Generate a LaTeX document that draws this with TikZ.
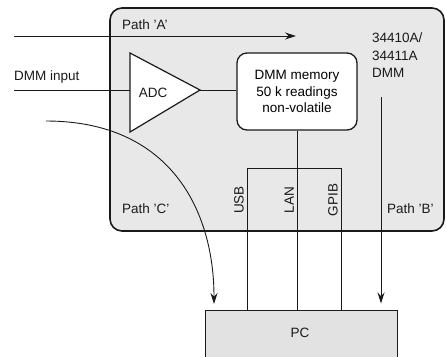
\documentclass[tikz,border=0pt]{standalone}
\usepackage{fontspec}
\setmainfont{Liberation Sans}
\usetikzlibrary{arrows.meta, positioning, calc}
\usepackage{xcolor}
\definecolor{DmmInk}{HTML}{1A1A1A}
\definecolor{DmmCase}{HTML}{E8E8E8}
\definecolor{DmmPc}{HTML}{E2E2E2}
\tikzset{
    % Box styles
    instrument/.style={
        draw=DmmInk,
        fill=DmmCase,
        line width=1.6pt,
        rounded corners=12pt
    },
    memorybox/.style={
        rectangle,
        draw=DmmInk,
        fill=white,
        line width=1.3pt,
        rounded corners=10pt,
        minimum width=120pt,
        minimum height=77pt,
        align=center,
        font=\fontsize{13.5}{16.5}\selectfont
    },
    pcbox/.style={
        rectangle,
        draw=DmmInk,
        fill=DmmPc,
        line width=1pt,
        minimum width=192pt,
        minimum height=50pt
    },
    adcshape/.style={
        draw=DmmInk,
        fill=white,
        line width=1.2pt,
        line join=miter
    },
    label/.style={
        text=DmmInk,
        inner sep=2pt,
        font=\fontsize{13.5}{17.5}\selectfont
    },
    % Line styles
    wire/.style={
        line width=0.9pt,
        draw=DmmInk
    },
    arrow/.style={
        -{Stealth[length=11pt, width=7pt]},
        line width=0.9pt,
        draw=DmmInk
    }
}
\begin{document}
\begin{tikzpicture}[x=1pt, y=-1pt]
    \useasboundingbox (0,0) rectangle (446,356);

    % instrument case
    \draw[instrument] (110,8) rectangle (444,231);

    % ADC
    \coordinate (adctop) at (130,53);
    \coordinate (adcapex) at (200,90);
    \coordinate (adcbot) at (130,132);
    \draw[adcshape] (adctop) -- (adcapex) -- (adcbot) -- cycle;
    \node[label] (adc) at (153,93) {ADC};

    \node[memorybox] (mem) at (297,91.5) {DMM memory\\50 k readings\\non-volatile};
    \node[pcbox] (pc) at (301,335) {};
    \node[label] (pclabel) at (300,333) {PC};

    % path A
    \coordinate (astart) at (14,36);
    \coordinate (aend) at (296,36);
    \draw[arrow] (astart) -- (aend);
    \node[label, anchor=west] (pathA) at (120,25) {Path 'A'};

    % input
    \coordinate (instart) at (14,90);
    \node[label, anchor=west] (dmmin) at (12,77) {DMM input};
    \draw[wire] (instart) -- (adctop |- instart);
    \draw[wire] (adcapex) -- (mem.west |- adcapex);

    % interfaces
    \coordinate (usbtop) at (247,168);
    \coordinate (gpibtop) at (341,168);
    \draw[wire] (usbtop) -- (gpibtop);
    \draw[wire] (usbtop) -- (usbtop |- pc.north);
    \draw[wire] (gpibtop) -- (gpibtop |- pc.north);
    \draw[wire] (mem.south) -- (mem.south |- pc.north);
    \node[label, rotate=90, anchor=south] (usb) at ($(usbtop)+(-1,32)$) {USB};
    \node[label, rotate=90, anchor=south] (lan) at ($(mem.south |- usbtop)+(-1,32)$) {LAN};
    \node[label, rotate=90, anchor=south] (gpib) at ($(gpibtop)+(-1,32)$) {GPIB};

    % path B
    \node[label, anchor=north west, align=left] (model) at (370,31) {34410A/\\34411A\\DMM};
    \coordinate (bstart) at (381,97);
    \draw[arrow, shorten >=6pt] (bstart) -- (bstart |- pc.north);
    \node[label, anchor=west] (pathB) at (385,209) {Path 'B'};

    % path C
    \coordinate (cstart) at (46,121);
    \coordinate (cend) at (214,304);
    \draw[arrow] (cstart) .. controls (170,121) and (214,210) .. (cend);
    \node[label, anchor=west] (pathC) at (120,209) {Path 'C'};
\end{tikzpicture}
\end{document}
